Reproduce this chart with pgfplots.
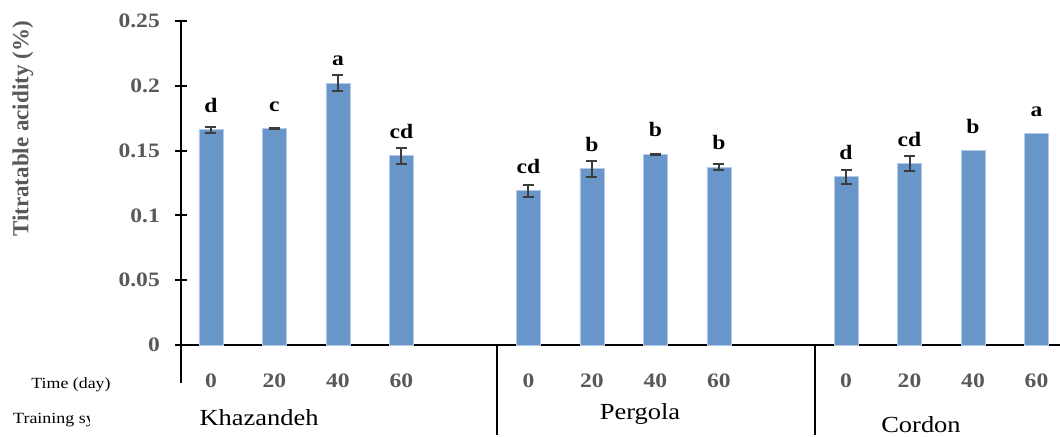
\documentclass[border=0pt]{standalone}
\usepackage{fontspec}
\setmainfont{Liberation Serif}[FakeStretch=1.15]
\newfontfamily\plainserif{Liberation Serif}
\usepackage{pgfplots}
\pgfplotsset{compat=1.18}
\usepackage{pgfplotstable}
\definecolor{barblue}{RGB}{104,150,201}
\definecolor{baredge}{RGB}{180,202,230}
\definecolor{tickgray}{RGB}{89,89,89}
\definecolor{errgray}{RGB}{60,60,60}
\pgfplotstableread{
x y label
0 0.166 d
1 0.167 c
2 0.202 a
3 0.146 cd
5 0.119 cd
6 0.136 b
7 0.147 b
8 0.137 b
10 0.130 d
11 0.140 cd
12 0.150 b
13 0.163 a
}\bardata
\pgfplotstableread{
x y err
0 0.166 0.0023
1 0.167 0.0002
2 0.202 0.006
3 0.146 0.006
5 0.119 0.0048
6 0.136 0.006
7 0.147 0.0004
8 0.137 0.0023
10 0.130 0.0054
11 0.140 0.0057
}\errdata
\begin{document}
\begin{tikzpicture}
\begin{axis}[
  at={(0,0)}, anchor=south west,
  scale only axis,
  width=879bp, height=324bp,
  xmin=-0.472, xmax=13.37,
  ymin=0, ymax=0.25,
  axis x line=bottom, axis y line=left,
  axis line style={-, line width=2bp, black},
  clip=false,
  xtick={0,1,2,3,5,6,7,8,10,11,12,13},
  xticklabels={0,20,40,60,0,20,40,60,0,20,40,60},
  xtick style={draw=none},
  ytick={0,0.05,0.1,0.15,0.2,0.25},
  yticklabels={0,0.05,0.1,0.15,0.2,0.25},
  ytick style={line width=2bp, black},
  tick align=center,
  major tick length=12bp,
  ticklabel style={font=\fontsize{20.5bp}{24bp}\selectfont\bfseries, text=tickgray, inner sep=0pt},
  xticklabel style={anchor=base, yshift=-36bp},
  yticklabel style={anchor=east, xshift=-15bp},
]
\addplot[ybar, bar width=24bp, fill=barblue, draw=baredge, line width=0.8bp,
  nodes near coords, point meta=explicit symbolic,
  every node near coord/.append style={anchor=base, yshift=17.5bp, inner sep=0pt, text=black, font=\fontsize{20.5bp}{24bp}\selectfont\bfseries}]
  table[x=x, y=y, meta=label]{\bardata};
\addplot[draw=none, mark=none,
  error bars/.cd, y dir=both, y explicit,
  error bar style={draw=errgray, line width=2bp, solid},
  error mark options={draw=errgray, line width=2bp, mark size=5.5bp, rotate=90}]
  table[x=x, y=y, y error=err]{\errdata};
\end{axis}
\draw[line width=2bp] (0,0) -- (0,-38bp);
\draw[line width=2bp] (316bp,0) -- (316bp,-90bp);
\draw[line width=2bp] (634bp,0) -- (634bp,-90bp);
\node[rotate=90, font=\plainserif\fontsize{23bp}{27bp}\selectfont\bfseries, text=tickgray] at (-158bp,216bp) {Titratable acidity (\%)};
\node[anchor=base, font=\fontsize{15.5bp}{18bp}\selectfont, inner sep=0pt] at (-110bp,-43bp) {Time (day)};
\begin{scope}
\clip (-181bp,-92bp) rectangle (-91bp,-55bp);
\node[anchor=base west, font=\fontsize{15.6bp}{18bp}\selectfont, inner sep=0pt] at (-168bp,-78bp) {Training system};
\end{scope}
\node[anchor=base, font=\fontsize{23bp}{27bp}\selectfont, inner sep=0pt] at (78bp,-80bp) {Khazandeh};
\node[anchor=base, font=\fontsize{23bp}{27bp}\selectfont, inner sep=0pt] at (459bp,-74bp) {Pergola};
\node[anchor=base, font=\fontsize{23bp}{27bp}\selectfont, inner sep=0pt] at (740bp,-87bp) {Cordon};
\pgfresetboundingbox
\useasboundingbox (-181bp,-92bp) rectangle (879bp,345bp);
\end{tikzpicture}
\end{document}
